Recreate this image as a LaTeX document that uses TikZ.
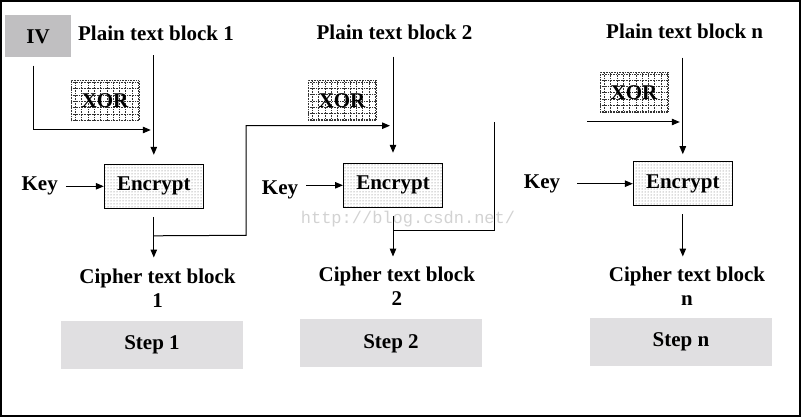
\documentclass[tikz,border=0pt]{standalone}
\usepackage{fontspec}
\setmainfont{Liberation Serif}
\newfontfamily\markfont{Liberation Mono}
\usetikzlibrary{arrows.meta, patterns}
\definecolor{ivgray}{RGB}{192,191,193}
\definecolor{stepgray}{RGB}{224,223,225}
\definecolor{markgray}{RGB}{210,210,210}

\begin{document}
\begin{tikzpicture}[x=1pt, y=-1pt]
\tikzset{TextStyle/.style = {font=\fontsize{21}{24}\selectfont\bfseries, inner sep=2pt, align=center}}
\tikzset{IVStyle/.style = {TextStyle, fill=ivgray, minimum width=66pt, minimum height=42pt}}
\tikzset{XorStyle/.style = {TextStyle, draw=black!80, densely dotted, line width=0.6pt, fill=white,
    minimum width=68pt, minimum height=40pt,
    path picture={\draw[black!80, densely dotted, line width=0.6pt, step=6.3pt]
        (path picture bounding box.south west) grid (path picture bounding box.north east);}}
}
\tikzset{EncryptStyle/.style = {TextStyle, draw, line width=1pt, pattern=dots, pattern color=black!60,
    minimum width=99pt, minimum height=44pt}
}
\tikzset{StepStyle/.style = {TextStyle, fill=stepgray, minimum width=182pt, minimum height=48pt}}
\tikzset{EdgeStyle/.style = {-{Triangle[length=8pt, width=6.5pt]}, line width=1pt}}
\tikzset{LineStyle/.style = {line width=1pt}}
\useasboundingbox (0,0) rectangle (801,417);
\draw[line width=2pt] (1,1) rectangle (800,416);
\node[font={\markfont\fontsize{17}{17}\selectfont}, text=markgray] (mark) at (408,219) {http://blog.csdn.net/};
% step 1
\node[IVStyle] (iv1) at (38,36.5) {IV};
\node[TextStyle, anchor=base] (plain1) at (156,41) {Plain text block 1};
\node[XorStyle] (xor1) at (105,100.8) {XOR};
\node[EncryptStyle] (enc1) at (153.8,186.3) {Encrypt};
\node[TextStyle, anchor=base] (key1) at (39.7,190) {Key};
\node[TextStyle] (cipher1) at (157.5,288) {Cipher text block\\1};
\node[StepStyle] (step1) at (152,344.7) {Step 1};
% step 2
\node[TextStyle, anchor=base] (plain2) at (394.5,39.3) {Plain text block 2};
\node[XorStyle] (xor2) at (342,100.3) {XOR};
\node[EncryptStyle] (enc2) at (393,185.3) {Encrypt};
\node[TextStyle, anchor=base] (key2) at (280,194) {Key};
\node[TextStyle] (cipher2) at (396.8,286) {Cipher text block\\2};
\node[StepStyle] (step2) at (391,343.3) {Step 2};
% step n
\node[TextStyle, anchor=base] (plainn) at (684.7,38.3) {Plain text block n};
\node[XorStyle] (xorn) at (634,92.2) {XOR};
\node[EncryptStyle] (encn) at (682.8,183.7) {Encrypt};
\node[TextStyle, anchor=base] (keyn) at (542,189) {Key};
\node[TextStyle] (ciphern) at (687,286) {Cipher text block\\n};
\node[StepStyle] (stepn) at (681,341.7) {Step n};

\coordinate (xin1) at (150.8,130);
\coordinate (turn1) at (246,235.3);
\coordinate (xin2) at (390,125.7);
\coordinate (out2) at (494,122);
\coordinate (inn) at (587,122);
\coordinate (xinn) at (679.8,122);

\draw[EdgeStyle, shorten <=8pt] ([xshift=-5pt]iv1.south) |- (xin1);
\draw[EdgeStyle, shorten <=12pt, shorten >=9pt] (enc1.north |- plain1.south) -- (enc1.north);
\draw[EdgeStyle, shorten <=6pt] (key1.east |- enc1.west) -- (enc1.west);
\draw[EdgeStyle, shorten <=8pt, shorten >=9pt] (enc1.south) -- (enc1.south |- cipher1.north);
\draw[EdgeStyle] ([yshift=-27pt]enc1.south) -- (turn1) |- (xin2);

\draw[EdgeStyle, shorten <=15pt, shorten >=10pt] (enc2.north |- plain2.south) -- (enc2.north);
\draw[EdgeStyle, shorten <=6pt] (key2.east |- enc2.west) -- (enc2.west);
\draw[EdgeStyle, shorten <=8pt, shorten >=8pt] (enc2.south) -- (enc2.south |- cipher2.north);
\draw[LineStyle] ([yshift=-23pt]enc2.south) -| (out2);

\draw[EdgeStyle] (inn) -- (xinn);
\draw[EdgeStyle, shorten <=17pt, shorten >=7pt] (encn.north |- plainn.south) -- (encn.north);
\draw[EdgeStyle, shorten <=15pt] (keyn.east |- encn.west) -- (encn.west);
\draw[EdgeStyle, shorten <=8pt, shorten >=8pt] (encn.south) -- (encn.south |- ciphern.north);
\end{tikzpicture}
\end{document}
